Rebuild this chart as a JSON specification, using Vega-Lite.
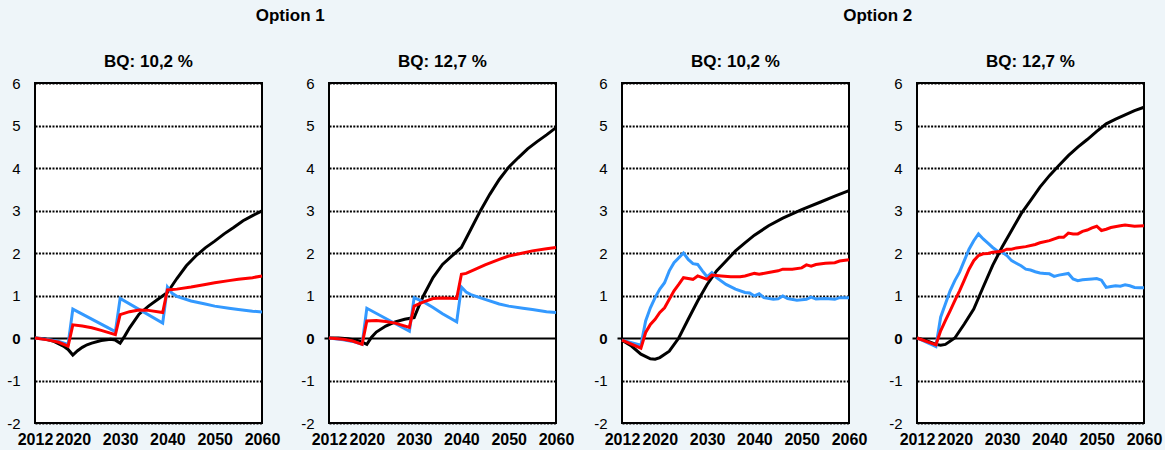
{
"$schema":"https://vega.github.io/schema/vega-lite/v6.json",
"padding":{"left":5,"top":7,"right":2,"bottom":2},
"background":"#eef5f9",
"datasets":{"d":[
{"panel":1,"series":"k","year":2012,"value":0},{"panel":1,"series":"k","year":2014,"value":-0.02},{"panel":1,"series":"k","year":2016,"value":-0.08},{"panel":1,"series":"k","year":2018,"value":-0.19},{"panel":1,"series":"k","year":2019,"value":-0.27},{"panel":1,"series":"k","year":2020,"value":-0.4},{"panel":1,"series":"k","year":2021,"value":-0.3},{"panel":1,"series":"k","year":2022,"value":-0.22},{"panel":1,"series":"k","year":2023,"value":-0.16},{"panel":1,"series":"k","year":2024,"value":-0.12},{"panel":1,"series":"k","year":2026,"value":-0.06},{"panel":1,"series":"k","year":2028,"value":-0.03},{"panel":1,"series":"k","year":2029,"value":-0.05},{"panel":1,"series":"k","year":2030,"value":-0.12},{"panel":1,"series":"k","year":2031,"value":0.05},{"panel":1,"series":"k","year":2032,"value":0.24},{"panel":1,"series":"k","year":2034,"value":0.56},{"panel":1,"series":"k","year":2036,"value":0.75},{"panel":1,"series":"k","year":2038,"value":0.91},{"panel":1,"series":"k","year":2040,"value":1.07},{"panel":1,"series":"k","year":2042,"value":1.4},{"panel":1,"series":"k","year":2044,"value":1.7},{"panel":1,"series":"k","year":2046,"value":1.93},{"panel":1,"series":"k","year":2048,"value":2.12},{"panel":1,"series":"k","year":2050,"value":2.28},{"panel":1,"series":"k","year":2052,"value":2.45},{"panel":1,"series":"k","year":2054,"value":2.6},{"panel":1,"series":"k","year":2056,"value":2.76},{"panel":1,"series":"k","year":2058,"value":2.88},{"panel":1,"series":"k","year":2060,"value":2.99},
{"panel":1,"series":"b","year":2012,"value":0},{"panel":1,"series":"b","year":2015,"value":-0.04},{"panel":1,"series":"b","year":2017,"value":-0.08},{"panel":1,"series":"b","year":2019,"value":-0.15},{"panel":1,"series":"b","year":2020,"value":0.68},{"panel":1,"series":"b","year":2029,"value":0.15},{"panel":1,"series":"b","year":2030,"value":0.93},{"panel":1,"series":"b","year":2039,"value":0.35},{"panel":1,"series":"b","year":2040,"value":1.2},{"panel":1,"series":"b","year":2041,"value":1.05},{"panel":1,"series":"b","year":2042,"value":0.98},{"panel":1,"series":"b","year":2045,"value":0.87},{"panel":1,"series":"b","year":2048,"value":0.8},{"panel":1,"series":"b","year":2050,"value":0.75},{"panel":1,"series":"b","year":2053,"value":0.7},{"panel":1,"series":"b","year":2055,"value":0.67},{"panel":1,"series":"b","year":2058,"value":0.63},{"panel":1,"series":"b","year":2060,"value":0.61},
{"panel":1,"series":"r","year":2012,"value":0},{"panel":1,"series":"r","year":2015,"value":-0.05},{"panel":1,"series":"r","year":2017,"value":-0.1},{"panel":1,"series":"r","year":2019,"value":-0.19},{"panel":1,"series":"r","year":2020,"value":0.31},{"panel":1,"series":"r","year":2022,"value":0.28},{"panel":1,"series":"r","year":2024,"value":0.24},{"panel":1,"series":"r","year":2026,"value":0.18},{"panel":1,"series":"r","year":2029,"value":0.08},{"panel":1,"series":"r","year":2030,"value":0.55},{"panel":1,"series":"r","year":2032,"value":0.62},{"panel":1,"series":"r","year":2034,"value":0.66},{"panel":1,"series":"r","year":2036,"value":0.65},{"panel":1,"series":"r","year":2039,"value":0.6},{"panel":1,"series":"r","year":2040,"value":1.13},{"panel":1,"series":"r","year":2042,"value":1.15},{"panel":1,"series":"r","year":2045,"value":1.2},{"panel":1,"series":"r","year":2048,"value":1.26},{"panel":1,"series":"r","year":2050,"value":1.3},{"panel":1,"series":"r","year":2053,"value":1.35},{"panel":1,"series":"r","year":2055,"value":1.38},{"panel":1,"series":"r","year":2058,"value":1.42},{"panel":1,"series":"r","year":2060,"value":1.46},
{"panel":2,"series":"k","year":2012,"value":0},{"panel":2,"series":"k","year":2014,"value":0},{"panel":2,"series":"k","year":2016,"value":-0.02},{"panel":2,"series":"k","year":2018,"value":-0.06},{"panel":2,"series":"k","year":2019,"value":-0.1},{"panel":2,"series":"k","year":2020,"value":-0.15},{"panel":2,"series":"k","year":2021,"value":0.02},{"panel":2,"series":"k","year":2022,"value":0.14},{"panel":2,"series":"k","year":2024,"value":0.28},{"panel":2,"series":"k","year":2026,"value":0.38},{"panel":2,"series":"k","year":2028,"value":0.44},{"panel":2,"series":"k","year":2030,"value":0.48},{"panel":2,"series":"k","year":2031,"value":0.75},{"panel":2,"series":"k","year":2032,"value":1.0},{"panel":2,"series":"k","year":2034,"value":1.42},{"panel":2,"series":"k","year":2036,"value":1.73},{"panel":2,"series":"k","year":2038,"value":1.93},{"panel":2,"series":"k","year":2040,"value":2.13},{"panel":2,"series":"k","year":2042,"value":2.56},{"panel":2,"series":"k","year":2044,"value":2.99},{"panel":2,"series":"k","year":2046,"value":3.38},{"panel":2,"series":"k","year":2048,"value":3.73},{"panel":2,"series":"k","year":2050,"value":4.02},{"panel":2,"series":"k","year":2052,"value":4.24},{"panel":2,"series":"k","year":2054,"value":4.45},{"panel":2,"series":"k","year":2056,"value":4.62},{"panel":2,"series":"k","year":2058,"value":4.78},{"panel":2,"series":"k","year":2060,"value":4.95},
{"panel":2,"series":"b","year":2012,"value":0},{"panel":2,"series":"b","year":2015,"value":-0.04},{"panel":2,"series":"b","year":2017,"value":-0.08},{"panel":2,"series":"b","year":2019,"value":-0.15},{"panel":2,"series":"b","year":2020,"value":0.7},{"panel":2,"series":"b","year":2029,"value":0.16},{"panel":2,"series":"b","year":2030,"value":0.95},{"panel":2,"series":"b","year":2032,"value":0.85},{"panel":2,"series":"b","year":2034,"value":0.72},{"panel":2,"series":"b","year":2036,"value":0.57},{"panel":2,"series":"b","year":2039,"value":0.38},{"panel":2,"series":"b","year":2040,"value":1.2},{"panel":2,"series":"b","year":2041,"value":1.08},{"panel":2,"series":"b","year":2042,"value":1.02},{"panel":2,"series":"b","year":2045,"value":0.91},{"panel":2,"series":"b","year":2048,"value":0.8},{"panel":2,"series":"b","year":2050,"value":0.75},{"panel":2,"series":"b","year":2053,"value":0.7},{"panel":2,"series":"b","year":2055,"value":0.67},{"panel":2,"series":"b","year":2058,"value":0.62},{"panel":2,"series":"b","year":2060,"value":0.6},
{"panel":2,"series":"r","year":2012,"value":0},{"panel":2,"series":"r","year":2015,"value":-0.03},{"panel":2,"series":"r","year":2017,"value":-0.07},{"panel":2,"series":"r","year":2019,"value":-0.15},{"panel":2,"series":"r","year":2020,"value":0.4},{"panel":2,"series":"r","year":2022,"value":0.41},{"panel":2,"series":"r","year":2024,"value":0.39},{"panel":2,"series":"r","year":2026,"value":0.35},{"panel":2,"series":"r","year":2029,"value":0.25},{"panel":2,"series":"r","year":2030,"value":0.75},{"panel":2,"series":"r","year":2032,"value":0.85},{"panel":2,"series":"r","year":2034,"value":0.93},{"panel":2,"series":"r","year":2036,"value":0.94},{"panel":2,"series":"r","year":2039,"value":0.93},{"panel":2,"series":"r","year":2040,"value":1.5},{"panel":2,"series":"r","year":2041,"value":1.52},{"panel":2,"series":"r","year":2043,"value":1.62},{"panel":2,"series":"r","year":2045,"value":1.72},{"panel":2,"series":"r","year":2048,"value":1.85},{"panel":2,"series":"r","year":2050,"value":1.93},{"panel":2,"series":"r","year":2053,"value":2.0},{"panel":2,"series":"r","year":2055,"value":2.05},{"panel":2,"series":"r","year":2058,"value":2.1},{"panel":2,"series":"r","year":2060,"value":2.13},
{"panel":3,"series":"k","year":2012,"value":-0.05},{"panel":3,"series":"k","year":2014,"value":-0.19},{"panel":3,"series":"k","year":2016,"value":-0.38},{"panel":3,"series":"k","year":2018,"value":-0.49},{"panel":3,"series":"k","year":2019,"value":-0.5},{"panel":3,"series":"k","year":2020,"value":-0.46},{"panel":3,"series":"k","year":2022,"value":-0.31},{"panel":3,"series":"k","year":2024,"value":0.0},{"panel":3,"series":"k","year":2026,"value":0.44},{"panel":3,"series":"k","year":2028,"value":0.87},{"panel":3,"series":"k","year":2030,"value":1.26},{"panel":3,"series":"k","year":2032,"value":1.58},{"panel":3,"series":"k","year":2034,"value":1.81},{"panel":3,"series":"k","year":2036,"value":2.05},{"panel":3,"series":"k","year":2038,"value":2.24},{"panel":3,"series":"k","year":2040,"value":2.42},{"panel":3,"series":"k","year":2043,"value":2.64},{"panel":3,"series":"k","year":2046,"value":2.82},{"panel":3,"series":"k","year":2050,"value":3.02},{"panel":3,"series":"k","year":2054,"value":3.2},{"panel":3,"series":"k","year":2057,"value":3.34},{"panel":3,"series":"k","year":2060,"value":3.47},
{"panel":3,"series":"b","year":2012,"value":-0.05},{"panel":3,"series":"b","year":2016,"value":-0.17},{"panel":3,"series":"b","year":2017,"value":0.4},{"panel":3,"series":"b","year":2018,"value":0.71},{"panel":3,"series":"b","year":2019,"value":0.95},{"panel":3,"series":"b","year":2020,"value":1.15},{"panel":3,"series":"b","year":2021,"value":1.3},{"panel":3,"series":"b","year":2022,"value":1.58},{"panel":3,"series":"b","year":2023,"value":1.77},{"panel":3,"series":"b","year":2025,"value":2.0},{"panel":3,"series":"b","year":2026,"value":1.85},{"panel":3,"series":"b","year":2027,"value":1.75},{"panel":3,"series":"b","year":2028,"value":1.73},{"panel":3,"series":"b","year":2029,"value":1.58},{"panel":3,"series":"b","year":2030,"value":1.44},{"panel":3,"series":"b","year":2031,"value":1.54},{"panel":3,"series":"b","year":2032,"value":1.42},{"panel":3,"series":"b","year":2034,"value":1.26},{"panel":3,"series":"b","year":2036,"value":1.15},{"panel":3,"series":"b","year":2038,"value":1.07},{"panel":3,"series":"b","year":2039,"value":1.06},{"panel":3,"series":"b","year":2040,"value":0.99},{"panel":3,"series":"b","year":2041,"value":1.04},{"panel":3,"series":"b","year":2042,"value":0.95},{"panel":3,"series":"b","year":2044,"value":0.91},{"panel":3,"series":"b","year":2045,"value":0.92},{"panel":3,"series":"b","year":2046,"value":0.99},{"panel":3,"series":"b","year":2047,"value":0.93},{"panel":3,"series":"b","year":2049,"value":0.89},{"panel":3,"series":"b","year":2051,"value":0.91},{"panel":3,"series":"b","year":2052,"value":0.96},{"panel":3,"series":"b","year":2053,"value":0.92},{"panel":3,"series":"b","year":2055,"value":0.93},{"panel":3,"series":"b","year":2057,"value":0.91},{"panel":3,"series":"b","year":2058,"value":0.95},{"panel":3,"series":"b","year":2060,"value":0.95},
{"panel":3,"series":"r","year":2012,"value":-0.05},{"panel":3,"series":"r","year":2016,"value":-0.24},{"panel":3,"series":"r","year":2017,"value":0.13},{"panel":3,"series":"r","year":2018,"value":0.32},{"panel":3,"series":"r","year":2019,"value":0.44},{"panel":3,"series":"r","year":2020,"value":0.6},{"panel":3,"series":"r","year":2021,"value":0.71},{"panel":3,"series":"r","year":2022,"value":0.91},{"panel":3,"series":"r","year":2023,"value":1.11},{"panel":3,"series":"r","year":2024,"value":1.26},{"panel":3,"series":"r","year":2025,"value":1.42},{"panel":3,"series":"r","year":2026,"value":1.4},{"panel":3,"series":"r","year":2027,"value":1.38},{"panel":3,"series":"r","year":2028,"value":1.46},{"panel":3,"series":"r","year":2029,"value":1.42},{"panel":3,"series":"r","year":2030,"value":1.38},{"panel":3,"series":"r","year":2031,"value":1.48},{"panel":3,"series":"r","year":2033,"value":1.46},{"panel":3,"series":"r","year":2035,"value":1.44},{"panel":3,"series":"r","year":2037,"value":1.44},{"panel":3,"series":"r","year":2038,"value":1.46},{"panel":3,"series":"r","year":2040,"value":1.52},{"panel":3,"series":"r","year":2041,"value":1.5},{"panel":3,"series":"r","year":2043,"value":1.54},{"panel":3,"series":"r","year":2045,"value":1.58},{"panel":3,"series":"r","year":2046,"value":1.62},{"panel":3,"series":"r","year":2048,"value":1.62},{"panel":3,"series":"r","year":2050,"value":1.65},{"panel":3,"series":"r","year":2051,"value":1.72},{"panel":3,"series":"r","year":2052,"value":1.69},{"panel":3,"series":"r","year":2053,"value":1.73},{"panel":3,"series":"r","year":2055,"value":1.76},{"panel":3,"series":"r","year":2057,"value":1.77},{"panel":3,"series":"r","year":2058,"value":1.81},{"panel":3,"series":"r","year":2060,"value":1.84},
{"panel":4,"series":"k","year":2012,"value":0},{"panel":4,"series":"k","year":2014,"value":-0.06},{"panel":4,"series":"k","year":2016,"value":-0.15},{"panel":4,"series":"k","year":2017,"value":-0.17},{"panel":4,"series":"k","year":2018,"value":-0.15},{"panel":4,"series":"k","year":2020,"value":0.0},{"panel":4,"series":"k","year":2022,"value":0.33},{"panel":4,"series":"k","year":2024,"value":0.68},{"panel":4,"series":"k","year":2026,"value":1.2},{"panel":4,"series":"k","year":2028,"value":1.71},{"panel":4,"series":"k","year":2030,"value":2.14},{"panel":4,"series":"k","year":2032,"value":2.53},{"panel":4,"series":"k","year":2034,"value":2.92},{"panel":4,"series":"k","year":2036,"value":3.23},{"panel":4,"series":"k","year":2038,"value":3.55},{"panel":4,"series":"k","year":2040,"value":3.82},{"panel":4,"series":"k","year":2042,"value":4.06},{"panel":4,"series":"k","year":2044,"value":4.29},{"panel":4,"series":"k","year":2046,"value":4.49},{"panel":4,"series":"k","year":2048,"value":4.67},{"panel":4,"series":"k","year":2050,"value":4.86},{"panel":4,"series":"k","year":2052,"value":5.04},{"panel":4,"series":"k","year":2054,"value":5.15},{"panel":4,"series":"k","year":2056,"value":5.25},{"panel":4,"series":"k","year":2058,"value":5.35},{"panel":4,"series":"k","year":2060,"value":5.43},
{"panel":4,"series":"b","year":2012,"value":0},{"panel":4,"series":"b","year":2016,"value":-0.2},{"panel":4,"series":"b","year":2017,"value":0.49},{"panel":4,"series":"b","year":2018,"value":0.8},{"panel":4,"series":"b","year":2019,"value":1.11},{"panel":4,"series":"b","year":2020,"value":1.35},{"panel":4,"series":"b","year":2021,"value":1.55},{"panel":4,"series":"b","year":2022,"value":1.82},{"panel":4,"series":"b","year":2023,"value":2.09},{"panel":4,"series":"b","year":2024,"value":2.29},{"panel":4,"series":"b","year":2025,"value":2.45},{"panel":4,"series":"b","year":2026,"value":2.33},{"panel":4,"series":"b","year":2027,"value":2.23},{"panel":4,"series":"b","year":2028,"value":2.13},{"panel":4,"series":"b","year":2029,"value":2.05},{"panel":4,"series":"b","year":2030,"value":2.02},{"panel":4,"series":"b","year":2031,"value":1.94},{"panel":4,"series":"b","year":2032,"value":1.82},{"panel":4,"series":"b","year":2033,"value":1.76},{"panel":4,"series":"b","year":2034,"value":1.7},{"panel":4,"series":"b","year":2035,"value":1.62},{"panel":4,"series":"b","year":2036,"value":1.6},{"panel":4,"series":"b","year":2037,"value":1.56},{"panel":4,"series":"b","year":2038,"value":1.53},{"panel":4,"series":"b","year":2039,"value":1.52},{"panel":4,"series":"b","year":2040,"value":1.51},{"panel":4,"series":"b","year":2041,"value":1.45},{"panel":4,"series":"b","year":2042,"value":1.48},{"panel":4,"series":"b","year":2044,"value":1.52},{"panel":4,"series":"b","year":2045,"value":1.39},{"panel":4,"series":"b","year":2046,"value":1.35},{"panel":4,"series":"b","year":2047,"value":1.37},{"panel":4,"series":"b","year":2049,"value":1.39},{"panel":4,"series":"b","year":2050,"value":1.4},{"panel":4,"series":"b","year":2051,"value":1.36},{"panel":4,"series":"b","year":2052,"value":1.19},{"panel":4,"series":"b","year":2053,"value":1.21},{"panel":4,"series":"b","year":2054,"value":1.23},{"panel":4,"series":"b","year":2055,"value":1.22},{"panel":4,"series":"b","year":2056,"value":1.25},{"panel":4,"series":"b","year":2057,"value":1.23},{"panel":4,"series":"b","year":2058,"value":1.19},{"panel":4,"series":"b","year":2059,"value":1.18},{"panel":4,"series":"b","year":2060,"value":1.18},
{"panel":4,"series":"r","year":2012,"value":0},{"panel":4,"series":"r","year":2016,"value":-0.16},{"panel":4,"series":"r","year":2017,"value":0.17},{"panel":4,"series":"r","year":2018,"value":0.41},{"panel":4,"series":"r","year":2019,"value":0.64},{"panel":4,"series":"r","year":2020,"value":0.88},{"panel":4,"series":"r","year":2021,"value":1.11},{"panel":4,"series":"r","year":2022,"value":1.36},{"panel":4,"series":"r","year":2023,"value":1.62},{"panel":4,"series":"r","year":2024,"value":1.82},{"panel":4,"series":"r","year":2025,"value":1.94},{"panel":4,"series":"r","year":2026,"value":1.98},{"panel":4,"series":"r","year":2027,"value":1.99},{"panel":4,"series":"r","year":2028,"value":2.02},{"panel":4,"series":"r","year":2030,"value":2.04},{"panel":4,"series":"r","year":2031,"value":2.09},{"panel":4,"series":"r","year":2032,"value":2.09},{"panel":4,"series":"r","year":2033,"value":2.12},{"panel":4,"series":"r","year":2035,"value":2.15},{"panel":4,"series":"r","year":2037,"value":2.2},{"panel":4,"series":"r","year":2038,"value":2.24},{"panel":4,"series":"r","year":2040,"value":2.29},{"panel":4,"series":"r","year":2042,"value":2.37},{"panel":4,"series":"r","year":2043,"value":2.37},{"panel":4,"series":"r","year":2044,"value":2.47},{"panel":4,"series":"r","year":2045,"value":2.45},{"panel":4,"series":"r","year":2046,"value":2.45},{"panel":4,"series":"r","year":2047,"value":2.51},{"panel":4,"series":"r","year":2048,"value":2.54},{"panel":4,"series":"r","year":2049,"value":2.59},{"panel":4,"series":"r","year":2050,"value":2.63},{"panel":4,"series":"r","year":2051,"value":2.53},{"panel":4,"series":"r","year":2052,"value":2.56},{"panel":4,"series":"r","year":2053,"value":2.6},{"panel":4,"series":"r","year":2055,"value":2.64},{"panel":4,"series":"r","year":2056,"value":2.66},{"panel":4,"series":"r","year":2058,"value":2.63},{"panel":4,"series":"r","year":2060,"value":2.64}
]},
"data":{"name":"d"},
"spacing":17,
"hconcat":[
{"title":{"text":"Option 1","offset":27,"anchor":"middle"},"spacing":18,"hconcat":[
{"title":"BQ: 10,2 %","width":227,"height":340,"transform":[{"filter":"datum.panel===1"}],"mark":{"type":"line","strokeWidth":3},
"encoding":{"x":{"field":"year","type":"quantitative","scale":{"domain":[2012,2060],"nice":false,"zero":false},"axis":{"values":[2012,2020,2030,2040,2050,2060],"format":"d","labelFontWeight":"bold","labelFontSize":16,"ticks":false,"grid":false,"labelOverlap":false,"labelFlush":false,"labelBound":false,"labelPadding":8}},
"y":{"field":"value","type":"quantitative","scale":{"domain":[-2,6],"nice":false},"axis":{"values":[-2,-1,0,1,2,3,4,5,6],"labelExpr":"datum.value < 0 ? '-' + abs(datum.value) : '' + datum.value","grid":true,"gridColor":"black","gridWidth":2,"gridDash":{"condition":{"test":"datum.value===0","value":[1,0]},"value":[2,1.4]},"tickColor":{"condition":{"test":"datum.value===0","value":"black"},"value":"transparent"},"tickSize":5,"tickWidth":2,"labelFontSize":15,"labelFontWeight":{"condition":{"test":"datum.value===0","value":"bold"},"value":"normal"},"labelPadding":10}},
"color":{"field":"series","type":"nominal","scale":{"domain":["k","b","r"],"range":["#000000","#3399ff","#ff0000"]},"legend":null}}},
{"title":"BQ: 12,7 %","width":227,"height":340,"transform":[{"filter":"datum.panel===2"}],"mark":{"type":"line","strokeWidth":3},
"encoding":{"x":{"field":"year","type":"quantitative","scale":{"domain":[2012,2060],"nice":false,"zero":false},"axis":{"values":[2012,2020,2030,2040,2050,2060],"format":"d","labelFontWeight":"bold","labelFontSize":16,"ticks":false,"grid":false,"labelOverlap":false,"labelFlush":false,"labelBound":false,"labelPadding":8}},
"y":{"field":"value","type":"quantitative","scale":{"domain":[-2,6],"nice":false},"axis":{"values":[-2,-1,0,1,2,3,4,5,6],"labelExpr":"datum.value < 0 ? '-' + abs(datum.value) : '' + datum.value","grid":true,"gridColor":"black","gridWidth":2,"gridDash":{"condition":{"test":"datum.value===0","value":[1,0]},"value":[2,1.4]},"tickColor":{"condition":{"test":"datum.value===0","value":"black"},"value":"transparent"},"tickSize":5,"tickWidth":2,"labelFontSize":15,"labelFontWeight":{"condition":{"test":"datum.value===0","value":"bold"},"value":"normal"},"labelPadding":10}},
"color":{"field":"series","type":"nominal","scale":{"domain":["k","b","r"],"range":["#000000","#3399ff","#ff0000"]},"legend":null}}}
]},
{"title":{"text":"Option 2","offset":27,"anchor":"middle"},"spacing":19,"hconcat":[
{"title":"BQ: 10,2 %","width":227,"height":340,"transform":[{"filter":"datum.panel===3"}],"mark":{"type":"line","strokeWidth":3},
"encoding":{"x":{"field":"year","type":"quantitative","scale":{"domain":[2012,2060],"nice":false,"zero":false},"axis":{"values":[2012,2020,2030,2040,2050,2060],"format":"d","labelFontWeight":"bold","labelFontSize":16,"ticks":false,"grid":false,"labelOverlap":false,"labelFlush":false,"labelBound":false,"labelPadding":8}},
"y":{"field":"value","type":"quantitative","scale":{"domain":[-2,6],"nice":false},"axis":{"values":[-2,-1,0,1,2,3,4,5,6],"labelExpr":"datum.value < 0 ? '-' + abs(datum.value) : '' + datum.value","grid":true,"gridColor":"black","gridWidth":2,"gridDash":{"condition":{"test":"datum.value===0","value":[1,0]},"value":[2,1.4]},"tickColor":{"condition":{"test":"datum.value===0","value":"black"},"value":"transparent"},"tickSize":5,"tickWidth":2,"labelFontSize":15,"labelFontWeight":{"condition":{"test":"datum.value===0","value":"bold"},"value":"normal"},"labelPadding":10}},
"color":{"field":"series","type":"nominal","scale":{"domain":["k","b","r"],"range":["#000000","#3399ff","#ff0000"]},"legend":null}}},
{"title":"BQ: 12,7 %","width":227,"height":340,"transform":[{"filter":"datum.panel===4"}],"mark":{"type":"line","strokeWidth":3},
"encoding":{"x":{"field":"year","type":"quantitative","scale":{"domain":[2012,2060],"nice":false,"zero":false},"axis":{"values":[2012,2020,2030,2040,2050,2060],"format":"d","labelFontWeight":"bold","labelFontSize":16,"ticks":false,"grid":false,"labelOverlap":false,"labelFlush":false,"labelBound":false,"labelPadding":8}},
"y":{"field":"value","type":"quantitative","scale":{"domain":[-2,6],"nice":false},"axis":{"values":[-2,-1,0,1,2,3,4,5,6],"labelExpr":"datum.value < 0 ? '-' + abs(datum.value) : '' + datum.value","grid":true,"gridColor":"black","gridWidth":2,"gridDash":{"condition":{"test":"datum.value===0","value":[1,0]},"value":[2,1.4]},"tickColor":{"condition":{"test":"datum.value===0","value":"black"},"value":"transparent"},"tickSize":5,"tickWidth":2,"labelFontSize":15,"labelFontWeight":{"condition":{"test":"datum.value===0","value":"bold"},"value":"normal"},"labelPadding":10}},
"color":{"field":"series","type":"nominal","scale":{"domain":["k","b","r"],"range":["#000000","#3399ff","#ff0000"]},"legend":null}}}
]}
],
"config":{"font":"Liberation Sans","view":{"fill":"white","stroke":"black","strokeWidth":2},"title":{"font":"Liberation Sans","fontSize":17,"fontWeight":"bold","color":"black","offset":5},"axis":{"labelFont":"Liberation Sans","labelColor":"black","domain":false,"title":null}}
}
